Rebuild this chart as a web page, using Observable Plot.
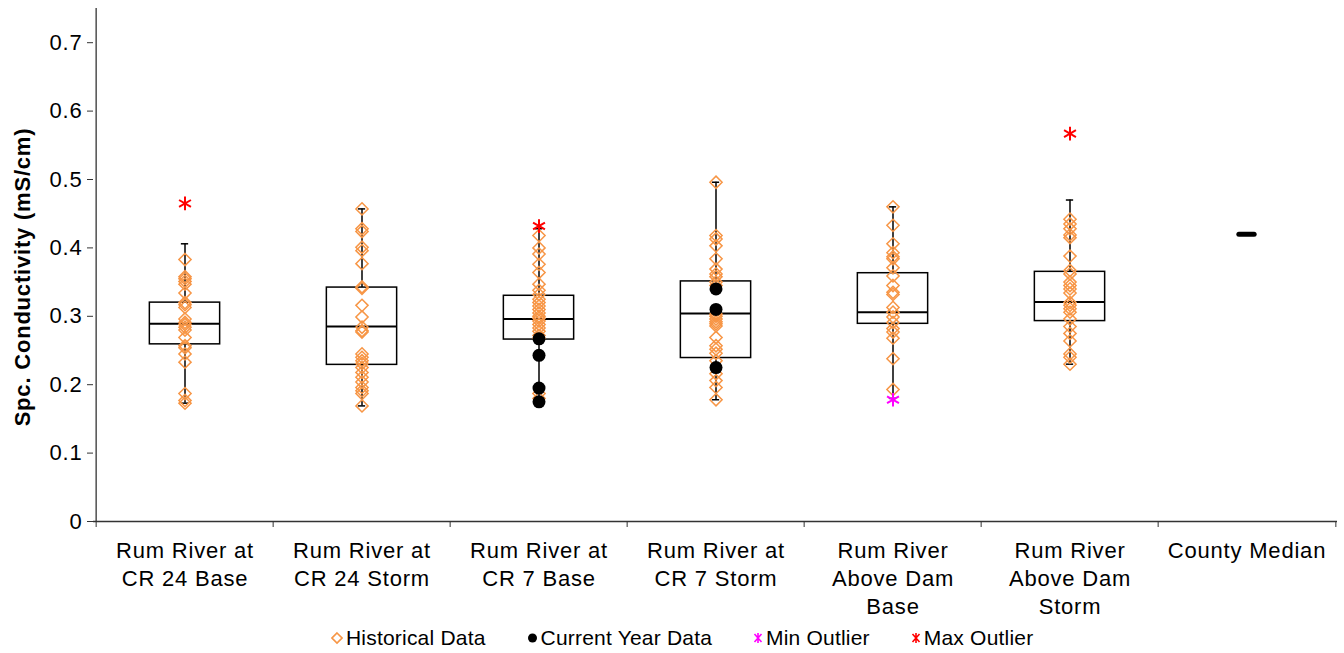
<!DOCTYPE html>
<html>
<head>
<meta charset="utf-8">
<script src="https://cdn.jsdelivr.net/npm/d3@7"></script>
<script src="https://cdn.jsdelivr.net/npm/@observablehq/plot@0.6"></script>
<style>
  html, body { margin: 0; padding: 0; background: #fff; }
  body { width: 1344px; height: 653px; overflow: hidden; font-family: "Liberation Sans", Arial, sans-serif; }
  #legend { display: flex; align-items: center; height: 31px; padding-left: 331px; font-size: 21px; letter-spacing: 0.2px; color: #000; }
  #legend .item { display: flex; align-items: center; margin-right: 41px; }
  #legend svg { margin-right: 3px; }
  #chart svg text { letter-spacing: 0.8px; }
</style>
</head>
<body>
<div id="chart"></div>
<div id="legend"></div>
<script>
// ---- data ----
const categories = [
  "Rum River at CR 24 Base",
  "Rum River at CR 24 Storm",
  "Rum River at CR 7 Base",
  "Rum River at CR 7 Storm",
  "Rum River Above Dam Base",
  "Rum River Above Dam Storm",
  "County Median"
];
const xLabels = [
  "Rum River at\nCR 24 Base",
  "Rum River at\nCR 24 Storm",
  "Rum River at\nCR 7 Base",
  "Rum River at\nCR 7 Storm",
  "Rum River\nAbove Dam\nBase",
  "Rum River\nAbove Dam\nStorm",
  "County Median"
];
const yTicks = [0, 0.1, 0.2, 0.3, 0.4, 0.5, 0.6, 0.7];

// box statistics for the six sites
const q1Values     = [0.259, 0.229, 0.266, 0.239, 0.289, 0.293];
const medianValues = [0.289, 0.285, 0.296, 0.304, 0.306, 0.321];
const q3Values     = [0.320, 0.342, 0.330, 0.351, 0.363, 0.365];
const whiskerLow   = [0.173, 0.169, 0.175, 0.178, 0.180, 0.230];
const whiskerHigh  = [0.406, 0.457, 0.428, 0.496, 0.460, 0.470];

// historical data per site
const histCR24Base = [0.383,0.358,0.355,0.351,0.347,0.334,0.320,0.317,0.313,0.296,0.291,0.288,0.284,0.280,0.269,0.257,0.254,0.245,0.233,0.187,0.177,0.173];
const histCR24Storm = [0.457,0.428,0.424,0.401,0.396,0.377,0.343,0.341,0.316,0.299,0.284,0.279,0.277,0.245,0.240,0.235,0.231,0.225,0.218,0.211,0.204,0.196,0.191,0.187,0.169];
const histCR7Base = [0.418,0.400,0.391,0.376,0.364,0.347,0.338,0.332,0.325,0.320,0.315,0.310,0.305,0.300,0.297,0.293,0.288,0.283,0.278,0.272,0.268,0.187,0.180];
const histCR7Storm = [0.496,0.418,0.413,0.403,0.384,0.369,0.362,0.358,0.350,0.345,0.303,0.300,0.296,0.292,0.289,0.286,0.269,0.257,0.252,0.246,0.235,0.216,0.206,0.196,0.178];
const histDamBase = [0.460,0.433,0.406,0.393,0.387,0.384,0.371,0.359,0.345,0.335,0.332,0.313,0.306,0.299,0.291,0.282,0.277,0.268,0.238,0.193];
const histDamStorm = [0.442,0.435,0.428,0.419,0.415,0.388,0.367,0.362,0.350,0.345,0.340,0.334,0.320,0.316,0.311,0.306,0.296,0.285,0.275,0.264,0.245,0.240,0.230];
const historical = [histCR24Base, histCR24Storm, histCR7Base, histCR7Storm, histDamBase, histDamStorm];

// current-year data per site
const currentCR7Base = [0.267, 0.243, 0.195, 0.175];
const currentCR7Storm = [0.340, 0.310, 0.225];
const current = [[], [], currentCR7Base, currentCR7Storm, [], []];

// outliers
const minOutliers = [null, null, null, null, 0.178, null];
const maxOutliers = [0.465, null, 0.432, null, null, 0.567];

const countyMedian = 0.42;

// ---- tables ----
const sites = categories.slice(0, 6);
const stats = sites.map((c, i) => ({cat: c, q1: q1Values[i], med: medianValues[i], q3: q3Values[i], lo: whiskerLow[i], hi: whiskerHigh[i]}));
const histRows = sites.flatMap((c, i) => historical[i].map(v => ({cat: c, v})));
const curRows = sites.flatMap((c, i) => current[i].map(v => ({cat: c, v})));
const minRows = sites.map((c, i) => ({cat: c, v: minOutliers[i]})).filter(d => d.v != null);
const maxRows = sites.map((c, i) => ({cat: c, v: maxOutliers[i]})).filter(d => d.v != null);
const medianRows = [{cat: categories[6], v: countyMedian}];

const W = 1344, H = 622;
const mL = 93, mR = 7, mT = 8, mB = 101;
const bw = (W - mL - mR) / categories.length;
const boxW = 71, capW = 8, medW = 16;
const orange = "#F79646";
const axisColor = "#333";

const chart = Plot.plot({
  width: W, height: H,
  marginLeft: mL, marginRight: mR, marginTop: mT, marginBottom: mB,
  style: {fontFamily: "'Liberation Sans', Arial, sans-serif", fontSize: "22px", color: "#000", background: "#fff"},
  x: {type: "band", domain: categories, padding: 0, axis: null},
  y: {domain: [0, 0.75], axis: null},
  marks: [
    // axes lines
    Plot.ruleY([0], {stroke: axisColor, strokeWidth: 1.3}),
    Plot.ruleX([categories[0]], {dx: -bw / 2, stroke: axisColor, strokeWidth: 1.3}),
    Plot.axisY({ticks: yTicks, tickSize: 6, tickPadding: 5, tickFormat: d => d === 0 ? "0" : d3.format(".1f")(d), label: null, stroke: axisColor}),
    Plot.axisX({tickSize: 6, tickFormat: () => "", dx: -bw / 2, label: null, stroke: axisColor}),
    Plot.axisX({ticks: [categories[6]], tickSize: 6, tickFormat: () => "", dx: bw / 2, label: null, stroke: axisColor}),
    Plot.axisX({tickSize: 0, tickPadding: 17, lineHeight: 1.26, tickFormat: d => xLabels[categories.indexOf(d)], label: null}),
    Plot.text(["Spc. Conductivity (mS/cm)"], {frameAnchor: "left", textAnchor: "middle", rotate: -90, dx: -71, dy: 12, fontWeight: "bold", fontSize: 22}),
    // whiskers
    Plot.ruleX(stats, {x: "cat", y1: "lo", y2: "q1", stroke: "#000", strokeWidth: 1.5}),
    Plot.ruleX(stats, {x: "cat", y1: "q3", y2: "hi", stroke: "#000", strokeWidth: 1.5}),
    Plot.tickY(stats, {x: "cat", y: "lo", insetLeft: (bw - capW) / 2, insetRight: (bw - capW) / 2, stroke: "#000", strokeWidth: 1.5}),
    Plot.tickY(stats, {x: "cat", y: "hi", insetLeft: (bw - capW) / 2, insetRight: (bw - capW) / 2, stroke: "#000", strokeWidth: 1.5}),
    // boxes
    Plot.barY(stats, {x: "cat", y1: "q1", y2: "q3", insetLeft: (bw - boxW) / 2, insetRight: (bw - boxW) / 2, fill: "none", stroke: "#000", strokeWidth: 1.5}),
    Plot.tickY(stats, {x: "cat", y: "med", insetLeft: (bw - boxW) / 2, insetRight: (bw - boxW) / 2, stroke: "#000", strokeWidth: 2}),
    // county median
    Plot.tickY(medianRows, {x: "cat", y: "v", insetLeft: (bw - medW) / 2, insetRight: (bw - medW) / 2, stroke: "#000", strokeWidth: 5, strokeLinecap: "round"}),
    // points
    Plot.dot(histRows, {x: "cat", y: "v", symbol: "diamond2", r: 5.5, stroke: orange, strokeWidth: 1.5, fill: "none"}),
    Plot.dot(curRows, {x: "cat", y: "v", symbol: "circle", r: 6.5, fill: "#000", stroke: "none"}),
    Plot.dot(minRows, {x: "cat", y: "v", symbol: "asterisk", r: 6.5, stroke: "#FF00FF", strokeWidth: 2}),
    Plot.dot(maxRows, {x: "cat", y: "v", symbol: "asterisk", r: 6.5, stroke: "#FF0000", strokeWidth: 2})
  ]
});
document.getElementById("chart").appendChild(chart);

// legend
const legendItems = [
  {label: "Historical Data", svg: `<svg width="12" height="14" viewBox="-6 -7 12 14"><path d="M0,-5L5,0L0,5L-5,0Z" fill="none" stroke="${orange}" stroke-width="1.6"/></svg>`},
  {label: "Current Year Data", svg: `<svg width="11" height="14" viewBox="-5.5 -7 11 14"><circle r="4.5" fill="#000"/></svg>`},
  {label: "Min Outlier", svg: `<svg width="10" height="14" viewBox="-5 -7 10 14"><path d="M-3.5,-4L3.5,4M3.5,-4L-3.5,4M0,-5L0,5" stroke="#FF00FF" stroke-width="1.6"/></svg>`},
  {label: "Max Outlier", svg: `<svg width="10" height="14" viewBox="-5 -7 10 14"><path d="M-3.5,-4L3.5,4M3.5,-4L-3.5,4M0,-5L0,5" stroke="#FF0000" stroke-width="1.6"/></svg>`}
];
const leg = document.getElementById("legend");
for (const it of legendItems) {
  const d = document.createElement("div");
  d.className = "item";
  d.innerHTML = it.svg + `<span>${it.label}</span>`;
  leg.appendChild(d);
}
</script>
</body>
</html>
